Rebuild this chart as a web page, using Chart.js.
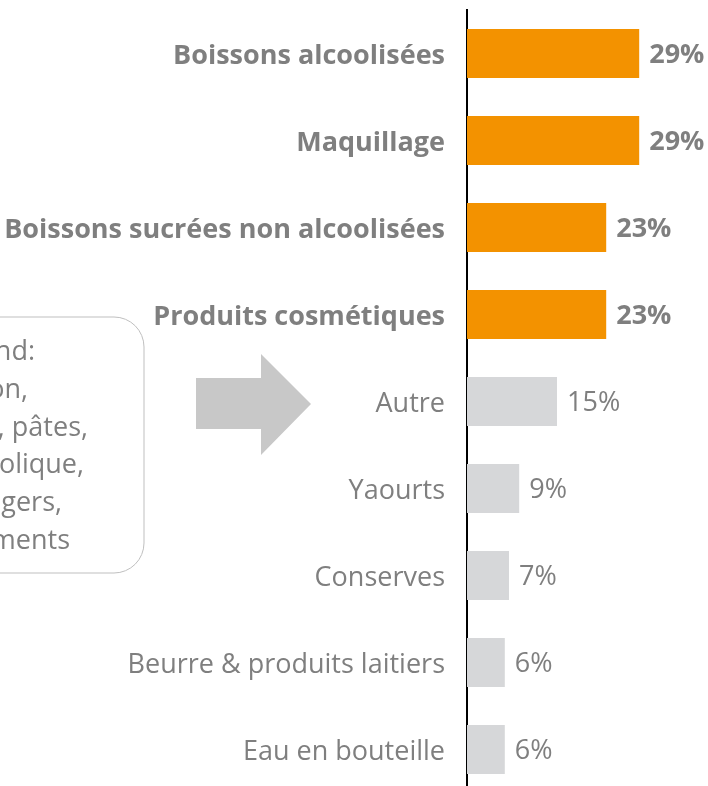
<!DOCTYPE html>
<html>
<head>
<meta charset="utf-8">
<script src="https://cdn.jsdelivr.net/npm/chart.js@4"></script>
<style>
  html, body { margin: 0; padding: 0; background: #fff; overflow: hidden; }
  #wrap { width: 708px; height: 786px; overflow: hidden; }
</style>
</head>
<body>
<div id="wrap"><canvas id="chart" width="708" height="800"></canvas></div>
<script>
const categories = [
  'Boissons alcoolisées',
  'Maquillage',
  'Boissons sucrées non alcoolisées',
  'Produits cosmétiques',
  'Autre',
  'Yaourts',
  'Conserves',
  'Beurre & produits laitiers',
  'Eau en bouteille'
];
const shares = [28.7, 28.7, 23.2, 23.2, 15.0, 8.7, 7.0, 6.3, 6.3];
const shareLabels = ['29%', '29%', '23%', '23%', '15%', '9%', '7%', '6%', '6%'];
const highlighted = [true, true, true, true, false, false, false, false, false];

// cropped note box on the left (only the right end of each line shows)
const noteLines = ['nd:', 'on,', ', pâtes,', 'olique,', 'agers,', 'ments'];
const noteLineEnds = [35, 28, 88, 84, 62, 70];

const ORANGE = '#f39200';
const GREY_BAR = '#d6d7d9';
const TEXT = '#7f7f7f';
const FONT = 'Open Sans';

Chart.defaults.font.family = FONT;

// box + arrow drawn behind the chart
const notePlugin = {
  id: 'note',
  beforeDraw(chart) {
    const ctx = chart.ctx;
    ctx.save();
    // rounded box, left side runs off the page
    const l = -60, t = 317, r = 144, b = 573, rad = 30;
    ctx.beginPath();
    ctx.moveTo(l, t);
    ctx.lineTo(r - rad, t);
    ctx.arcTo(r, t, r, t + rad, rad);
    ctx.lineTo(r, b - rad);
    ctx.arcTo(r, b, r - rad, b, rad);
    ctx.lineTo(l, b);
    ctx.strokeStyle = '#bfbfbf';
    ctx.lineWidth = 1;
    ctx.stroke();

    ctx.fillStyle = TEXT;
    ctx.font = '27px "' + FONT + '"';
    ctx.textAlign = 'right';
    ctx.textBaseline = 'alphabetic';
    noteLines.forEach((s, i) => ctx.fillText(s, noteLineEnds[i], 360 + i * 37.8));

    // block arrow
    ctx.beginPath();
    ctx.moveTo(196, 378);
    ctx.lineTo(261, 378);
    ctx.lineTo(261, 354);
    ctx.lineTo(311, 404);
    ctx.lineTo(261, 455);
    ctx.lineTo(261, 429);
    ctx.lineTo(196, 429);
    ctx.closePath();
    ctx.fillStyle = '#c8c8c8';
    ctx.fill();
    ctx.restore();
  }
};

// percentage labels at the bar ends
const valuePlugin = {
  id: 'values',
  afterDatasetsDraw(chart) {
    const ctx = chart.ctx;
    const meta = chart.getDatasetMeta(0);
    ctx.save();
    ctx.fillStyle = TEXT;
    ctx.textAlign = 'left';
    ctx.textBaseline = 'middle';
    meta.data.forEach((bar, i) => {
      ctx.font = (highlighted[i] ? 'bold ' : '') + '27px "' + FONT + '"';
      ctx.fillText(shareLabels[i], bar.x + 10, bar.y + 2);
    });
    ctx.restore();
  }
};

new Chart(document.getElementById('chart'), {
  type: 'bar',
  data: {
    labels: categories,
    datasets: [{
      data: shares,
      backgroundColor: highlighted.map(h => h ? ORANGE : GREY_BAR),
      borderWidth: 0,
      categoryPercentage: 1,
      barPercentage: 0.563
    }]
  },
  options: {
    indexAxis: 'y',
    responsive: false,
    animation: false,
    devicePixelRatio: 1,
    layout: { padding: { top: 10, bottom: 7, left: 0, right: 1 } },
    plugins: {
      legend: { display: false },
      tooltip: { enabled: false }
    },
    scales: {
      x: {
        display: false,
        min: 0,
        max: 40
      },
      y: {
        grid: { display: false, drawTicks: false },
        border: { display: true, color: '#000', width: 2 },
        afterFit(scale) {
          scale.width = 467;
          scale.paddingTop = 0;
          scale.paddingBottom = 0;
        },
        ticks: {
          padding: 22,
          labelOffset: 3,
          color: TEXT,
          font: (c) => ({ size: 27, weight: highlighted[c.index] ? 'bold' : 'normal' })
        }
      }
    }
  },
  plugins: [notePlugin, valuePlugin]
});
</script>
</body>
</html>
